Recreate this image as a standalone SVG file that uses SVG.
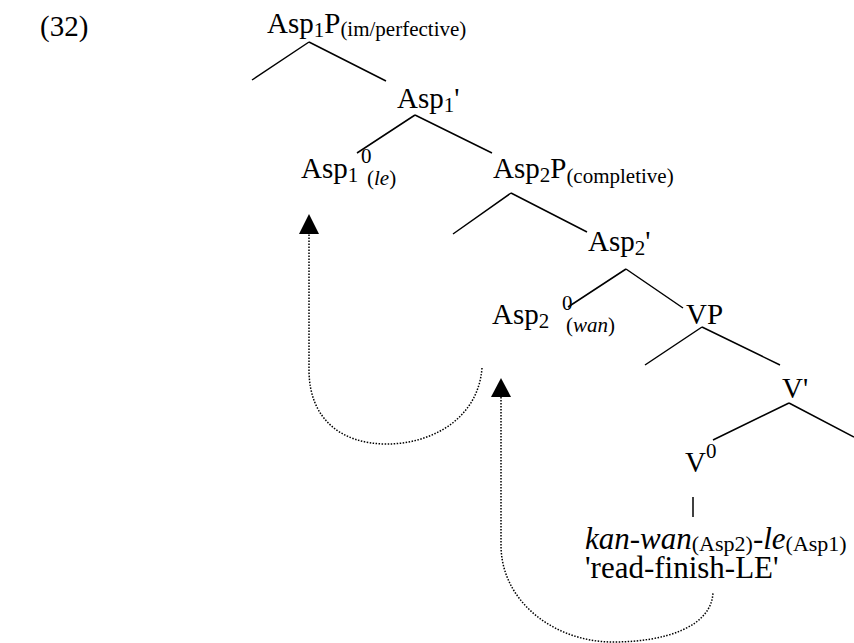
<svg xmlns="http://www.w3.org/2000/svg" width="854" height="643" viewBox="0 0 854 643">
<defs>
<style>
text{font-family:"Liberation Serif","Times New Roman",serif;font-size:29px;fill:#000}
.s{font-size:21px}
.i{font-style:italic}
.w{font-size:31px}
.ws{font-size:22px}
.br{stroke:#000;stroke-width:1.5;fill:none}
.mv{stroke:#000;stroke-width:1.5;fill:none;stroke-dasharray:1.5 1.5}
</style>
</defs>
<rect width="854" height="643" fill="#fff"/>
<text id="ex" x="40" y="36">(32)</text>
<g id="connectors">
<path class="br" d="M309,42 L252,80 M309,42 L386,81"/>
<path class="br" d="M415,115 L357,153 M415,115 L492,153"/>
<path class="br" d="M511,193 L453,234 M511,193 L587,232"/>
<path class="br" d="M626,269 L568,307 M626,269 L683,308"/>
<path class="br" d="M702,327 L645,365 M702,327 L780,365"/>
<path class="br" d="M789,403 L713,440 M789,403 L854,437"/>
<path class="br" d="M693,497 L693,517"/>
<path class="mv" d="M482,368 C478,420 430,444 387,444 C340,444 309,418 309,370 L309,234"/>
<polygon points="309,214 299,234 319,234" fill="#000"/>
<path class="mv" d="M501,397 L501,545 C501,602 555,642 613,642 C665,642 712,627 713,592"/>
<polygon points="501,378 491,397 511,397" fill="#000"/>
</g>
<g id="asp1p"><text x="267" y="33">Asp<tspan class="s" dy="4">1</tspan><tspan dy="-4">P</tspan><tspan class="s" dy="3">(im/perfective)</tspan></text></g>
<g id="asp1bar"><text x="397" y="108">Asp<tspan class="s" dy="4">1</tspan><tspan dy="-4">'</tspan></text></g>
<g id="asp1head"><text x="301" y="178">Asp<tspan class="s" dy="4">1</tspan><tspan class="s" x="361" y="163">0</tspan><tspan class="s" x="367" y="185">(<tspan class="i">le</tspan>)</tspan></text></g>
<g id="asp2p"><text x="493" y="178">Asp<tspan class="s" dy="4">2</tspan><tspan dy="-4">P</tspan><tspan class="s" dy="5">(completive)</tspan></text></g>
<g id="asp2bar"><text x="588" y="251">Asp<tspan class="s" dy="4">2</tspan><tspan dy="-4">'</tspan></text></g>
<g id="asp2head"><text x="492" y="324">Asp<tspan class="s" dy="4">2</tspan><tspan class="s" x="562" y="310">0</tspan><tspan class="s" x="566" y="332">(<tspan class="i">wan</tspan>)</tspan></text></g>
<g id="vp"><text x="686" y="324">VP</text></g>
<g id="vbar"><text x="782" y="398">V'</text></g>
<g id="v0"><text x="685" y="472">V<tspan class="s" dy="-14">0</tspan></text></g>
<g id="word"><text class="w" x="585" y="549"><tspan class="i">kan-wan</tspan><tspan class="ws" dy="2">(Asp2)</tspan><tspan class="i" dy="-2">-le</tspan><tspan class="ws" dy="2">(Asp1)</tspan></text>
<text class="w" x="585" y="578">'read-finish-LE'</text></g>
</svg>
